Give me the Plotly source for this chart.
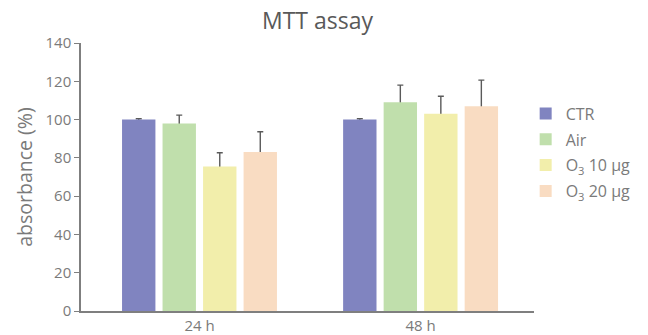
import plotly.graph_objects as go

categories = ["24 h", "48 h"]
series_names = ["CTR", "Air", "O<sub>3</sub> 10 µg", "O<sub>3</sub> 20 µg"]
ctr_values = [100, 100]
air_values = [98, 109]
o3_10_values = [75.5, 103]
o3_20_values = [83, 107]
ctr_err = [0.4, 0.4]
air_err = [4.3, 9]
o3_10_err = [7.2, 9.2]
o3_20_err = [10.6, 13.6]
y_ticks = [0, 20, 40, 60, 80, 100, 120, 140]

colors = ["#8084c0", "#c0dfac", "#f2eeab", "#f9dcc2"]
values = [ctr_values, air_values, o3_10_values, o3_20_values]
errors = [ctr_err, air_err, o3_10_err, o3_20_err]

FONT = "Open Sans, Lato, sans-serif"
TICKC = "#7a7a7a"

fig = go.Figure()
# error bars (drawn underneath; lower cap hidden inside bars)
for name, vals, errs in zip(series_names, values, errors):
    fig.add_trace(go.Bar(
        x=categories, y=vals, name=name, showlegend=False, hoverinfo="skip",
        marker=dict(color="rgba(0,0,0,0)", line=dict(width=0)),
        error_y=dict(type="data", array=errs, arrayminus=[2.5] * len(errs),
                     symmetric=False, color="#5a5a5a", thickness=1.4, width=3),
        xaxis="x", yaxis="y",
    ))
# coloured bars on top
for name, vals, col in zip(series_names, values, colors):
    fig.add_trace(go.Bar(
        x=categories, y=vals, name=name, legendgroup=name,
        marker=dict(color=col, line=dict(width=0)),
        xaxis="x2", yaxis="y2",
    ))

xcommon = dict(type="category", range=[-0.536, 1.513], ticks="", showgrid=False,
               zeroline=False, automargin=False)
ycommon = dict(range=[0, 140], showgrid=False, zeroline=False, automargin=False)

fig.update_layout(
    width=648, height=335,
    margin=dict(l=81, r=106, t=43, b=24),
    paper_bgcolor="white", plot_bgcolor="white",
    barmode="group", bargap=0.267, bargroupgap=0.176,
    title=dict(text="MTT assay", x=0.49, xanchor="center", y=0.936, yanchor="middle",
               font=dict(family=FONT, size=23, color="#595959")),
    font=dict(family=FONT, color=TICKC),
    showlegend=True,
    legend=dict(x=0.9816, xanchor="left", y=0.80, yanchor="top",
                font=dict(family=FONT, size=16, color=TICKC),
                tracegroupgap=2, bgcolor="rgba(0,0,0,0)"),
    xaxis=dict(**xcommon, showline=False, showticklabels=False),
    yaxis=dict(**ycommon, showline=False, showticklabels=False),
    xaxis2=dict(**xcommon, overlaying="x", showline=True, linecolor="#7f7f7f",
                linewidth=1.5,
                tickfont=dict(family=FONT, size=15, color=TICKC)),
    yaxis2=dict(**ycommon, overlaying="y", tickvals=y_ticks, showline=True,
                linecolor="#7f7f7f", linewidth=1.5, ticks="outside", ticklen=5,
                tickcolor="#7f7f7f",
                tickfont=dict(family=FONT, size=15, color=TICKC),
                title=dict(text="absorbance (%)", standoff=8,
                           font=dict(family=FONT, size=19.5, color=TICKC))),
)

fig.write_html("out.html", config={"displayModeBar": False},
               post_script="document.body.style.margin='0';document.body.style.overflow='hidden';")
